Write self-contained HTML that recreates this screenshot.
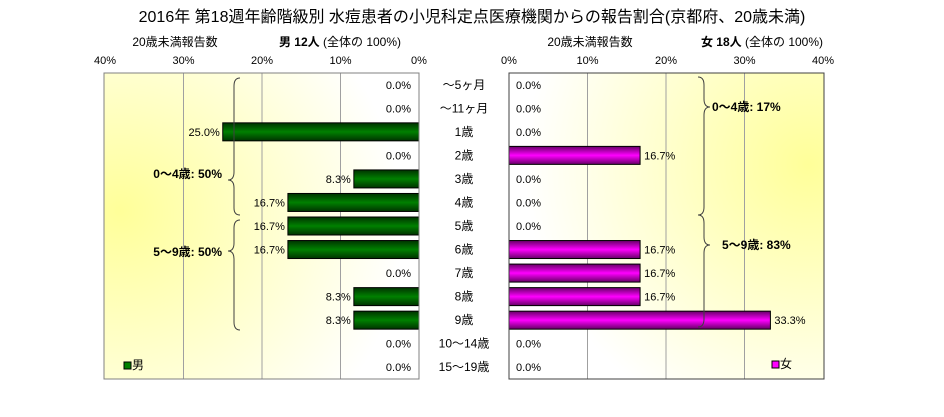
<!DOCTYPE html>
<html><head><meta charset="utf-8"><style>
body{margin:0;background:#fff;width:944px;height:417px;overflow:hidden}
svg{display:block;font-family:"Liberation Sans","Noto Sans CJK JP",sans-serif}
</style></head><body>
<svg id="c" width="944" height="417">
<defs>
<radialGradient id="bgL" cx="0.05" cy="0.5" r="0.9" fx="0.05" fy="0.45"><stop offset="0" stop-color="#ffff99"/><stop offset="1" stop-color="#ffffff"/></radialGradient>
<radialGradient id="bgR" cx="0.95" cy="0.3" r="0.9"><stop offset="0" stop-color="#ffff99"/><stop offset="1" stop-color="#ffffff"/></radialGradient>
<linearGradient id="gM" x1="0" y1="0" x2="0" y2="1"><stop offset="0" stop-color="#003300"/><stop offset="0.5" stop-color="#008000"/><stop offset="1" stop-color="#003300"/></linearGradient>
<linearGradient id="gF" x1="0" y1="0" x2="0" y2="1"><stop offset="0" stop-color="#660066"/><stop offset="0.5" stop-color="#ff00ff"/><stop offset="1" stop-color="#660066"/></linearGradient>
</defs>
<text x="472" y="22" text-anchor="middle" font-size="16">2016年 第18週年齢階級別 水痘患者の小児科定点医療機関からの報告割合(京都府、20歳未満)</text>
<text x="175" y="46" text-anchor="middle" font-size="12">20歳未満報告数</text>
<text x="340" y="46" text-anchor="middle" font-size="12"><tspan font-weight="bold">男 12人</tspan> (全体の 100%)</text>
<text x="590" y="46" text-anchor="middle" font-size="12">20歳未満報告数</text>
<text x="762" y="46" text-anchor="middle" font-size="12"><tspan font-weight="bold">女 18人</tspan> (全体の 100%)</text>
<rect x="104" y="73" width="315" height="306" fill="url(#bgL)"/>
<rect x="509" y="73" width="315" height="306" fill="url(#bgR)"/>
<g id="g"></g>
<rect x="104" y="73" width="315" height="306" fill="none" stroke="#808080"/>
<rect x="509" y="73" width="315" height="306" fill="none" stroke="#404040"/>
<g fill="none" stroke="#404040" stroke-width="1">
<path d="M240,78 Q234,78 234,86 L234,172 Q234,180 228,180 Q234,180 234,188 L234,208 Q234,215 240,215"/>
<path d="M240,220 Q234,220 234,228 L234,243 Q234,251 228,251 Q234,251 234,259 L234,322 Q234,330 240,330"/>
<path d="M698,77 Q704,77 704,85 L704,99 Q704,107 710,107 Q704,107 704,115 L704,207 Q704,215 698,215"/>
<path d="M698,215 Q704,215 704,223 L704,237 Q704,245 710,245 Q704,245 704,253 L704,319 Q704,327 698,327"/>
</g>
<g font-size="12" font-weight="bold">
<text x="222" y="178" text-anchor="end">0〜4歳: 50%</text>
<text x="222" y="256" text-anchor="end">5〜9歳: 50%</text>
<text x="712" y="111">0〜4歳: 17%</text>
<text x="722" y="249">5〜9歳: 83%</text>
</g>
<rect x="124" y="362" width="7" height="7" fill="#008000" stroke="#000"/>
<text x="132" y="369" font-size="12">男</text>
<rect x="772" y="361" width="7" height="7" fill="#ff00ff" stroke="#000"/>
<text x="780" y="368" font-size="12">女</text>
</svg>
<script>
const categories=["〜5ヶ月","〜11ヶ月","1歳","2歳","3歳","4歳","5歳","6歳","7歳","8歳","9歳","10〜14歳","15〜19歳"];
const maleValues=[0,0,25.0,0,8.3,16.7,16.7,16.7,0,8.3,8.3,0,0];
const femaleValues=[0,0,0,16.7,0,0,0,16.7,16.7,16.7,33.3,0,0];
const tickValues=[0,10,20,30,40];
const NS="http://www.w3.org/2000/svg";
const g=document.getElementById('g');
const top0=73,plotH=306,rowH=plotH/categories.length,bh=18;
const xL=v=>419-v*7.85, xR=v=>509+v*7.85, yC=i=>top0+rowH*(i+0.5);
function mk(t,a,txt){const e=document.createElementNS(NS,t);for(const k in a)e.setAttribute(k,a[k]);if(txt!=null)e.textContent=txt;g.appendChild(e);return e;}
tickValues.forEach(t=>{
  if(t>0&&t<40){
    let l=mk('line',{x1:xL(t),x2:xL(t),y1:73,y2:379,stroke:'#a0a0a0'});
    
    
    let r=mk('line',{x1:xR(t),x2:xR(t),y1:73,y2:379,stroke:'#a0a0a0'});
    
    
  }
  let a=mk('text',{x:xL(t),y:64,'text-anchor':'middle','font-size':11},t+'%');
  
  
  let b=mk('text',{x:xR(t),y:64,'text-anchor':'middle','font-size':11},t+'%');
  
  
});
categories.forEach((c,i)=>{
  const y=yC(i);
  let cl=mk('text',{x:464,y:y+4,'text-anchor':'middle','font-size':12},c);
  
  
  const m=maleValues[i];
  if(m>0){
    let b=mk('rect',{x:xL(m),y:y-bh/2,width:419-xL(m),height:bh,fill:'url(#gM)',stroke:'#000'});
    
    
  }
  let ml=mk('text',{x:(m>0?xL(m)-3:411),y:y+4,'text-anchor':'end','font-size':11},m.toFixed(1)+'%');
  
  
  const f=femaleValues[i];
  if(f>0){
    let b=mk('rect',{x:509,y:y-bh/2,width:xR(f)-509,height:bh,fill:'url(#gF)',stroke:'#000'});
    
    
  }
  let fl=mk('text',{x:(f>0?xR(f)+4:516),y:y+4,'font-size':11},f.toFixed(1)+'%');
  
  
});
</script>
</body></html>
